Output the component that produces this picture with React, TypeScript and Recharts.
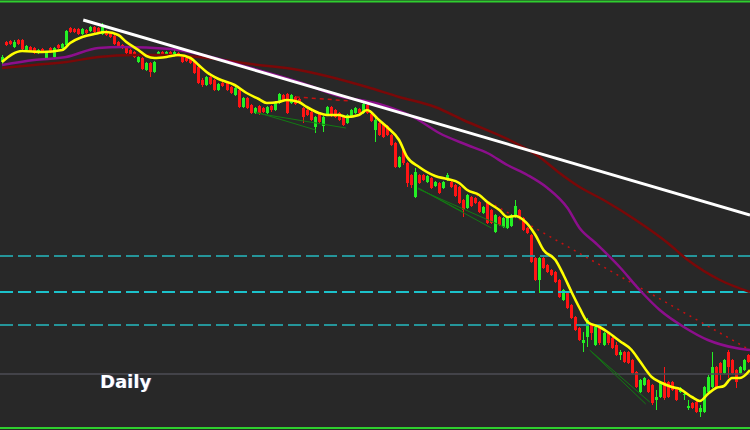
import React from 'react';
import { ComposedChart, Bar, Line, XAxis, YAxis, ReferenceLine } from 'recharts';

// Daily candles (price units), one per trading day, left to right
const opens = [
  143.8,145.8,145.9,145.3,146.0,146.0,145.0,145.3,145.2,144.7,
  145.1,144.2,145.2,144.3,145.5,145.2,145.5,147.2,147.1,147.1,
  146.6,147.0,146.9,147.3,147.2,146.6,146.9,146.7,146.4,145.8,
  145.5,145.2,145.0,144.8,143.8,144.2,143.0,143.7,142.8,144.5,
  144.8,144.4,144.8,144.4,144.7,144.3,144.2,144.1,143.8,143.3,
  142.0,141.5,142.3,142.0,141.0,141.7,141.7,141.3,140.5,141.0,
  139.3,140.2,139.5,138.7,139.4,139.2,138.7,139.4,139.0,139.7,
  140.5,140.6,139.7,140.3,140.1,139.2,139.0,138.8,137.3,138.6,
  137.4,138.5,139.3,139.0,138.7,138.3,137.7,138.3,138.7,139.1,
  138.7,139.5,138.6,137.0,137.7,137.6,137.4,136.5,135.7,133.3,
  135.0,133.7,132.5,130.3,132.5,132.5,131.8,132.2,131.4,131.7,
  131.2,132.0,131.8,131.5,131.3,130.0,129.2,130.3,130.2,129.8,
  128.7,129.7,129.0,126.8,128.3,127.3,127.2,127.4,128.3,129.0,
  128.2,127.2,126.5,124.2,122.0,124.2,123.5,123.0,122.8,122.0,
  120.0,120.7,119.5,118.3,117.2,115.7,116.3,117.5,115.5,117.2,
  115.5,116.7,116.2,115.5,114.5,114.8,114.8,114.0,112.8,110.8,
  111.5,112.0,111.5,110.0,110.3,111.8,111.8,111.8,111.2,110.8,
  110.5,109.2,109.7,109.8,108.8,108.8,110.8,111.3,113.3,113.7,
  112.7,114.8,114.0,113.0,112.7,113.0,114.5,
];
const highs = [
  144.5,145.9,146.0,146.0,146.1,146.1,145.5,145.4,145.3,145.1,
  145.2,144.9,145.3,145.3,145.6,145.7,147.0,147.3,147.2,147.2,
  147.2,147.1,147.4,147.4,147.3,147.7,147.0,146.8,146.5,145.9,
  145.6,145.3,145.1,144.9,144.4,144.3,143.8,143.8,143.9,144.9,
  144.9,144.9,144.9,145.0,144.8,144.4,144.3,144.2,143.9,143.4,
  142.2,142.4,142.4,142.1,141.7,141.8,141.8,141.4,141.3,141.1,
  140.3,140.3,139.6,139.3,139.5,139.3,139.4,139.5,139.9,140.7,
  140.6,140.7,140.6,140.4,140.2,139.3,139.1,138.9,138.4,138.7,
  138.4,139.4,139.4,139.1,138.8,138.4,138.6,139.1,139.3,139.2,
  139.7,139.6,138.7,138.3,137.8,137.7,137.5,136.6,135.8,134.4,
  135.2,133.8,132.6,133.2,132.6,132.6,132.5,132.3,131.9,131.8,
  131.9,132.7,131.9,131.6,131.4,130.1,130.6,130.4,130.3,129.9,
  129.4,129.8,129.1,128.6,128.4,128.3,128.3,128.6,130.0,129.1,
  128.3,127.3,126.6,124.3,124.3,124.3,123.6,123.1,122.9,122.1,
  121.1,120.8,119.6,118.4,117.3,116.8,118.2,117.6,117.5,117.3,
  116.8,116.8,116.3,115.8,115.0,114.9,114.9,114.1,112.9,112.1,
  112.3,112.1,111.6,111.0,111.8,113.3,111.9,111.9,111.3,111.3,
  110.7,110.0,109.8,109.9,109.5,111.4,112.5,114.8,113.4,113.8,
  114.1,115.0,114.1,113.1,113.4,114.1,114.6,
];
const lows = [
  143.6,145.4,145.5,145.2,145.5,145.0,144.9,144.8,144.6,144.6,
  144.7,144.1,144.7,144.2,145.1,145.1,145.4,146.7,146.7,146.5,
  146.5,146.6,146.8,146.7,146.6,146.5,146.4,146.2,145.5,145.2,
  145.1,144.6,144.4,144.2,143.7,143.0,142.9,142.3,142.7,144.4,
  144.4,144.3,144.4,144.3,144.3,143.7,143.8,143.6,142.6,141.6,
  141.3,141.4,141.5,140.9,140.9,141.3,140.9,140.6,140.4,139.2,
  139.2,139.1,138.6,138.6,138.5,138.7,138.6,138.8,138.9,139.6,
  139.9,138.6,139.6,139.5,139.6,137.7,138.4,137.9,136.7,137.6,
  136.8,138.4,138.3,138.2,137.9,137.4,137.6,138.2,138.6,138.6,
  138.6,138.6,137.8,135.8,136.4,136.2,136.4,135.4,133.2,133.2,
  133.5,131.3,131.2,130.2,131.6,131.9,131.7,131.1,131.3,130.6,
  131.1,131.9,131.2,130.3,129.6,128.3,129.1,129.3,129.6,128.7,
  128.6,127.6,127.6,126.7,127.4,127.2,127.1,127.3,128.2,128.2,
  126.9,126.6,123.7,121.9,120.7,123.1,122.7,122.4,121.7,120.2,
  119.9,119.1,118.1,116.9,115.9,114.8,115.3,116.0,115.4,115.5,
  115.4,115.5,115.1,114.4,114.0,113.7,113.6,112.6,111.2,110.7,
  111.4,110.7,109.5,109.0,110.2,110.0,110.2,110.9,109.9,110.7,
  110.0,109.0,109.1,108.7,108.3,108.7,110.7,111.2,111.2,112.0,
  112.6,112.2,112.6,111.2,112.6,112.9,113.7,
];
const closes = [
  144.3,145.5,145.6,145.8,145.6,145.1,145.4,144.9,144.7,145.0,
  144.8,144.8,144.8,145.2,145.2,145.6,146.9,146.8,146.8,146.6,
  147.1,146.7,147.3,146.8,146.7,147.3,146.5,146.3,145.6,145.3,
  145.2,144.7,144.5,144.3,144.3,143.1,143.7,142.8,143.8,144.8,
  144.5,144.8,144.5,144.8,144.4,143.8,143.9,143.7,142.7,141.7,
  141.5,142.3,141.6,141.0,141.6,141.4,141.0,140.7,141.2,139.3,
  140.2,139.2,138.7,139.2,138.7,138.8,139.3,139.0,139.8,140.6,
  140.0,138.7,140.5,139.6,139.7,138.3,138.5,138.0,138.3,137.8,
  138.3,139.3,138.5,138.3,138.0,137.5,138.5,139.0,139.2,138.7,
  139.6,138.7,137.9,138.0,136.5,136.3,136.5,135.5,133.3,134.3,
  133.7,131.7,131.5,132.8,131.7,132.0,132.4,131.2,131.8,130.7,
  131.8,132.5,131.3,130.4,129.7,129.0,130.5,129.4,129.7,128.8,
  129.3,127.7,127.7,128.5,127.5,128.2,128.2,128.5,129.4,128.3,
  127.0,126.7,123.8,122.0,124.2,123.2,122.8,122.5,121.8,120.3,
  121.0,119.2,118.2,117.0,116.0,116.0,118.0,116.7,117.3,115.7,
  116.7,115.7,115.2,114.5,114.8,113.8,113.7,112.7,111.3,112.0,
  112.2,110.8,109.7,110.3,111.7,110.2,110.3,111.0,110.0,111.2,
  110.6,109.4,109.2,108.8,109.2,111.3,112.3,113.3,111.3,112.7,
  114.0,113.3,112.7,111.8,113.3,114.0,113.8,
];

// Moving averages (bar index, price)
const fastMaIdx = [0,5,10,15,17,20,23,26,29,31,34,36,38,41,44,47,49,51,54,58,61,64,66,69,71,74,76,79,81,84,86,89,91,94,96,99,101,104,108,111,114,116,119,121,124,126,128,130,133,135,138,140,142,144,146,149,151,154,157,159,162,164,167,169,172,174,176,178,180,182,184,186.5];
const fastMaVal = [143.8,144.9,144.8,145.0,145.7,146.3,146.6,146.8,146.5,145.8,145.0,144.4,144.2,144.3,144.5,144.2,143.5,142.8,142.1,141.5,140.7,140.1,139.7,139.8,140.0,139.8,139.3,138.7,138.5,138.5,138.3,138.5,139.0,138.0,137.3,136.0,134.3,133.3,132.4,132.1,131.7,131.0,130.5,129.8,129.0,128.3,128.4,128.0,126.5,125.0,124.0,122.5,120.8,119.2,117.8,117.3,116.8,115.9,115.0,113.9,112.3,111.8,111.3,111.1,110.3,109.9,110.6,111.2,111.4,112.2,112.2,113.0];
const midMaIdx = [0,8,16,24,30,42,49,62,74,84,94,103,109,116,121,126,131,136,141,144,148,154,159,164,170,176,183,186.5];
const midMaVal = [143.5,144.0,144.3,145.2,145.3,145.1,144.6,143.2,141.8,140.4,139.6,138.2,136.7,135.5,134.7,133.5,132.5,131.2,129.2,127.2,125.7,123.3,121.0,119.0,117.3,116.0,115.2,115.0];
const slowMaIdx = [0,8,16,24,33,41,49,62,74,91,99,108,115,128,134,139,144,150,158,166,171,179,186.5];
const slowMaVal = [143.2,143.5,143.8,144.3,144.5,144.5,144.3,143.6,143.0,141.3,140.3,139.3,138.0,135.7,134.3,132.7,131.3,130.0,128.0,125.7,124.0,122.0,120.8];

// Drawn objects
const trendStart = { i: 20.25, p: 148.0 };
const trendEnd = { i: 186.5, p: 128.5 };
const levelPrices = [124.4, 120.8, 117.5];
const levelColors = ['#25959a', '#1cc2cb', '#25959a'];
const sessionLine = 112.6;
const redDashed = [[73.25, 140.3], [87, 139.9]];
const redDotted = [[115.25, 131.2], [186.5, 115.0]];
const greenFans = [
  [[63.25, 138.8], [78.25, 137.0]],
  [[63.25, 138.7], [85.75, 137.2]],
  [[103.75, 131.2], [115, 128.8]],
  [[103.75, 131.2], [122, 127.2]],
  [[103.75, 131.1], [125.75, 127.2]],
  [[146.5, 115.0], [161.5, 109.8]],
  [[147, 114.8], [160.5, 109.6]],
];

const RED = '#ff1414';
const GREEN = '#24f024';

const candles = opens.map((o, i) => ({
  i, o, h: highs[i], l: lows[i], c: closes[i], range: [lows[i], highs[i]],
}));
const toSeries = (idx: number[], val: number[]) => idx.map((i, k) => ({ i, v: val[k] }));
const fastMa = toSeries(fastMaIdx, fastMaVal);
const midMa = toSeries(midMaIdx, midMaVal);
const slowMa = toSeries(slowMaIdx, slowMaVal);

const Candle = (props: any) => {
  const { x, y, width, height, payload } = props;
  if (!payload || x == null) return null;
  const { o, h, l, c } = payload;
  const top = Math.min(y, y + height);
  const bot = Math.max(y, y + height);
  const span = h - l || 1;
  const py = (p: number) => top + ((h - p) / span) * (bot - top);
  const up = c >= o;
  const color = up ? GREEN : RED;
  const cx = Math.round(x + width / 2);
  const bTop = py(Math.max(o, c));
  const bBot = py(Math.min(o, c));
  return (
    <g>
      <line x1={cx + 0.5} x2={cx + 0.5} y1={top} y2={bot} stroke={color} strokeWidth={1} />
      <rect x={cx - 1} y={bTop} width={3} height={Math.max(1, bBot - bTop)} fill={color} />
    </g>
  );
};

export default function App() {
  return (
    <div style={{ position: 'absolute', left: 0, top: 0, width: 750, height: 430, background: '#282828' }}>
      <ComposedChart width={750} height={430} data={candles} margin={{ top: 0, right: 0, bottom: 0, left: 0 }}>
        <XAxis dataKey="i" type="number" domain={[-0.5, 186.5]} hide allowDataOverflow />
        <YAxis type="number" domain={[107, 150]} hide allowDataOverflow />
        <ReferenceLine y={149.85} stroke="#2fcf2f" strokeWidth={2} />
        <ReferenceLine y={107.2} stroke="#2fcf2f" strokeWidth={2} />
        <ReferenceLine y={sessionLine} stroke="#4c4c54" strokeWidth={1.5} />
        {levelPrices.map((p, k) => (
          <ReferenceLine key={'lv' + k} y={p} stroke={levelColors[k]} strokeWidth={2} strokeDasharray="13 5" />
        ))}
        {greenFans.map((s, k) => (
          <ReferenceLine key={'gf' + k} segment={[{ x: s[0][0], y: s[0][1] }, { x: s[1][0], y: s[1][1] }]} stroke="#127a12" strokeWidth={1} />
        ))}
        <ReferenceLine segment={[{ x: redDashed[0][0], y: redDashed[0][1] }, { x: redDashed[1][0], y: redDashed[1][1] }]} stroke="#c81010" strokeWidth={1.5} strokeDasharray="4 4" />
        <ReferenceLine segment={[{ x: redDotted[0][0], y: redDotted[0][1] }, { x: redDotted[1][0], y: redDotted[1][1] }]} stroke="#c81010" strokeWidth={1.5} strokeDasharray="2 5" />
        <Bar dataKey="range" barSize={3} shape={<Candle />} isAnimationActive={false} />
        <Line data={slowMa} dataKey="v" type="monotone" stroke="#7a0808" strokeWidth={2.5} dot={false} activeDot={false} isAnimationActive={false} />
        <Line data={midMa} dataKey="v" type="monotone" stroke="#8c0f8c" strokeWidth={2.5} dot={false} activeDot={false} isAnimationActive={false} />
        <Line data={fastMa} dataKey="v" type="monotone" stroke="#ffff00" strokeWidth={2.6} dot={false} activeDot={false} isAnimationActive={false} />
        <ReferenceLine segment={[{ x: trendStart.i, y: trendStart.p }, { x: trendEnd.i, y: trendEnd.p }]} stroke="#ffffff" strokeWidth={3} />
      </ComposedChart>
      <div style={{ position: 'absolute', left: 100, top: 373, fontFamily: '"DejaVu Sans", sans-serif', fontWeight: 'bold', fontSize: 18, lineHeight: '18px', color: '#ffffff', textShadow: '1px 0 0 rgba(90,120,255,0.45)' }}>
        Daily
      </div>
    </div>
  );
}
